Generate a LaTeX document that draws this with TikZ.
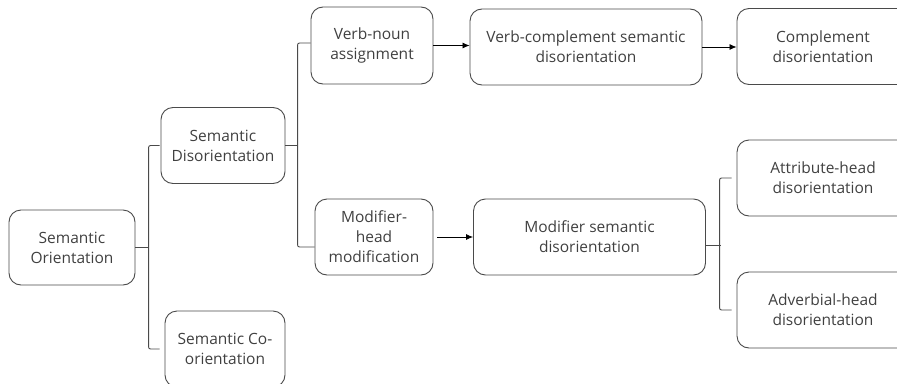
\documentclass[tikz,border=0pt]{standalone}
\usepackage{fontspec}
\setmainfont{Open Sans}
\usetikzlibrary{arrows.meta,calc}
\definecolor{txt}{HTML}{404040}
\definecolor{edge}{HTML}{4A4A4A}
\tikzset{
  box/.style={draw=edge, line width=0.9pt, rounded corners=12pt, align=center,
    text=txt, font=\fontsize{15.5}{20}\selectfont, inner sep=2pt},
  bracket/.style={draw=edge, line width=0.9pt, rounded corners=2pt},
  arr/.style={draw=black, line width=0.8pt, -{Latex[length=7pt,width=6pt]}}
}
\begin{document}
\begin{tikzpicture}[x=1pt,y=-1pt]
\useasboundingbox (0,0) rectangle (897,383);
\clip (0,0) rectangle (897,383);
\node[box, minimum width=126pt, minimum height=75pt] (so) at (72,247.5) {Semantic\\Orientation};
\node[box, minimum width=124pt, minimum height=76pt] (sd) at (223,145.5) {Semantic\\Disorientation};
\node[box, minimum width=120pt, minimum height=76pt] (sc) at (225,349) {Semantic Co-\\orientation};
\node[box, minimum width=122pt, minimum height=77pt] (vn) at (372,45.5) {Verb-noun\\assignment};
\node[box, minimum width=232pt, minimum height=76pt] (vc) at (586,47) {Verb-complement semantic\\disorientation};
\node[box, minimum width=172pt, minimum height=76pt] (cd) at (823,46.5) {Complement\\disorientation};
\node[box, minimum width=118pt, minimum height=76pt] (mh) at (374,237) {Modifier-\\head\\modification};
\node[box, minimum width=232pt, minimum height=76pt] (ms) at (589.5,237) {Modifier semantic\\disorientation};
\node[box, minimum width=172pt, minimum height=76pt] (ah) at (823,178) {Attribute-head\\disorientation};
\node[box, minimum width=172pt, minimum height=76pt] (adh) at (823,310) {Adverbial-head\\disorientation};
% bracket 1
\draw[bracket] (so.east) -- ++(14,0);
\draw[bracket, shorten <=1pt, shorten >=5pt] (sd.west) -- ++(-12,0) |- (sc.west);
% bracket 2
\draw[bracket] (sd.east) -- ++(12,0);
\draw[bracket] ([yshift=2.5pt]vn.west) -- ++(-13,0) |- ([yshift=-10pt]mh.west);
% bracket 3
\draw[bracket] ([yshift=-8pt]ms.east) -- ++(15,0);
\draw[bracket, shorten <=5pt, shorten >=5pt] (ah.west) -- ++(-17,0) |- (adh.west);
% arrows
\draw[arr] (vn.east) -- (vn.east -| vc.west);
\draw[arr] (vc.east) -- (vc.east -| cd.west);
\draw[arr, shorten <=4pt] (mh.east) -- (mh.east -| ms.west);
\end{tikzpicture}
\end{document}
